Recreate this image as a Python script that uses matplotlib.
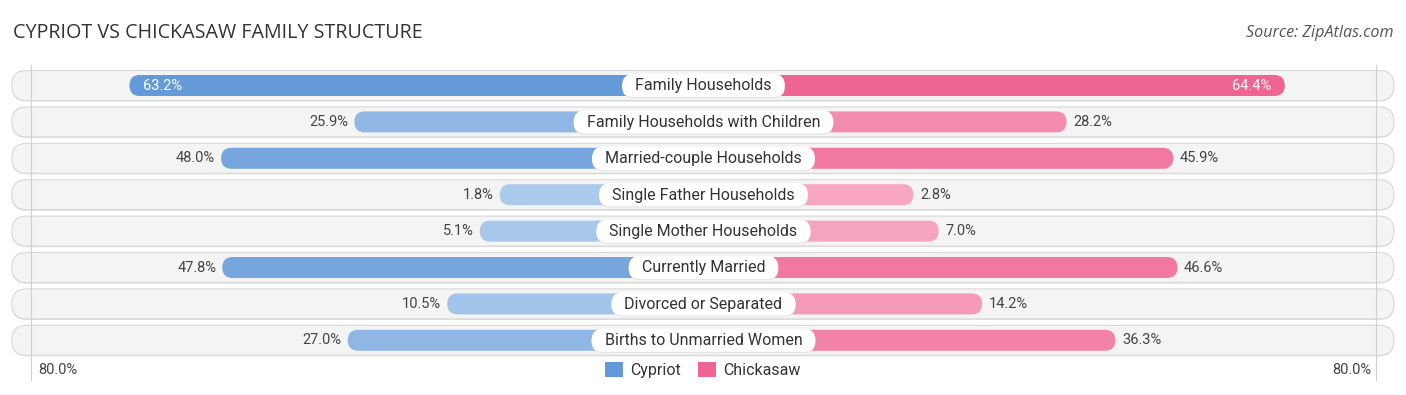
import matplotlib.pyplot as plt
from matplotlib.patches import FancyBboxPatch, Patch
from matplotlib.colors import to_rgb
from matplotlib.transforms import ScaledTranslation

categories = ['Family Households', 'Family Households with Children', 'Married-couple Households',
              'Single Father Households', 'Single Mother Households', 'Currently Married',
              'Divorced or Separated', 'Births to Unmarried Women']
cypriot = [63.2, 25.9, 48.0, 1.8, 5.1, 47.8, 10.5, 27.0]
chickasaw = [64.4, 28.2, 45.9, 2.8, 7.0, 46.6, 14.2, 36.3]
axis_max = 80.0

GAP = 32.0           # room kept for the category label in the middle
PX_X = 6.03          # pixels per x unit
PX_Y = 36.4          # pixels per row
ASPECT = PX_X / PX_Y

blue_dark, blue_light = to_rgb('#6399d8'), to_rgb('#aecbed')
pink_dark, pink_light = to_rgb('#ef6592'), to_rgb('#f7aac2')
vmax = max(max(cypriot), max(chickasaw))


def mix(light, dark, v):
    t = v / vmax
    return tuple(l + (d - l) * t for l, d in zip(light, dark))


def pill(x, y, w, h, r, **kw):
    return FancyBboxPatch((x, y), w, h, boxstyle=f'round,pad=0,rounding_size={r}',
                          mutation_aspect=ASPECT, **kw)


fig = plt.figure(figsize=(14.06, 3.95), dpi=100)
ax = fig.add_axes([0, 0, 1, 1])
ax.set_xlim(-703.5 / PX_X, 702.5 / PX_X)
ax.set_ylim(309.5 / PX_Y, -85.5 / PX_Y)
ax.axis('off')
renderer = fig.canvas.get_renderer()
shadow = ax.transData + ScaledTranslation(0, -1.2 / 100, fig.dpi_scale_trans)

font = 'Roboto'

# grid lines at +-80%
for s in (-1, 1):
    ax.plot([s * (GAP + axis_max - 0.4)] * 2, [-0.56, 8.09], color='#cfcfcf', lw=0.8, zorder=2)

bg_h = 30 / PX_Y
bar_h = 21 / PX_Y
pill_h = 23 / PX_Y
for i, cat in enumerate(categories):
    # row background
    ax.add_patch(pill(-114.7, i - bg_h / 2 + 0.03, 229.2, bg_h, 2.45, fc='#e2e2e2', ec='none', zorder=1))
    ax.add_patch(pill(-114.7, i - bg_h / 2, 229.2, bg_h, 2.45, fc='#f4f4f4', ec='#d8d8d8',
                      lw=0.8, zorder=1))

    c, k = cypriot[i], chickasaw[i]
    wl = GAP + c
    wr = GAP + k
    ax.add_patch(pill(-wl, i - bar_h / 2, wl, bar_h, 1.72, fc=mix(blue_light, blue_dark, c),
                      ec='none', zorder=3))
    ax.add_patch(pill(0, i - bar_h / 2, wr, bar_h, 1.72, fc=mix(pink_light, pink_dark, k),
                      ec='none', zorder=3))

    # category label on a white pill sized to the text
    t = ax.text(0, i + 0.01, cat, ha='center', va='center', fontsize=11.5, color='#333333',
                family=font, zorder=6)
    pw = t.get_window_extent(renderer).width / PX_X + 26 / PX_X
    ax.add_patch(pill(-pw / 2, i - pill_h / 2, pw, pill_h, 1.85, fc='#e6e6e6', ec='none',
                      zorder=4, transform=shadow))
    ax.add_patch(pill(-pw / 2, i - pill_h / 2, pw, pill_h, 1.85, fc='white', ec='none', zorder=5))

    # values
    if c > 60:
        ax.text(-wl + 2.2, i, f'{c:.1f}%', ha='left', va='center', fontsize=10.5,
                color='white', family=font, zorder=6)
    else:
        ax.text(-wl - 1.0, i, f'{c:.1f}%', ha='right', va='center', fontsize=10.5,
                color='#444444', family=font, zorder=6)
    if k > 60:
        ax.text(wr - 2.2, i, f'{k:.1f}%', ha='right', va='center', fontsize=10.5,
                color='white', family=font, zorder=6)
    else:
        ax.text(wr + 1.1, i, f'{k:.1f}%', ha='left', va='center', fontsize=10.5,
                color='#444444', family=font, zorder=6)

# axis end labels
ax.text(-(GAP + axis_max) + 1.6, 7.82, f'{axis_max:.1f}%', ha='left', va='center',
        fontsize=10.5, color='#444444', family=font)
ax.text((GAP + axis_max) - 1.3, 7.82, f'{axis_max:.1f}%', ha='right', va='center',
        fontsize=10.5, color='#444444', family=font)

# title and source
fig.text(13 / 1406, 1 - 33 / 395, 'CYPRIOT VS CHICKASAW FAMILY STRUCTURE', ha='left', va='center',
         fontsize=14.2, color='#333333', family='Open Sans')
fig.text(1394 / 1406, 1 - 33 / 395, 'Source: ZipAtlas.com', ha='right', va='center',
         fontsize=11.6, color='#555555', family='Open Sans', style='italic')

handles = [Patch(fc=blue_dark, ec='none', label='Cypriot'),
           Patch(fc=pink_dark, ec='none', label='Chickasaw')]
leg = fig.legend(handles=handles, loc='center', bbox_to_anchor=(0.5, 1 - 370 / 395), ncol=2,
                 frameon=False, handlelength=1.1, handleheight=1.1, handletextpad=0.45,
                 columnspacing=1.1, prop={'family': font, 'size': 11.5})
for tx in leg.get_texts():
    tx.set_color('#333333')

fig.savefig('out.png', dpi=100)
